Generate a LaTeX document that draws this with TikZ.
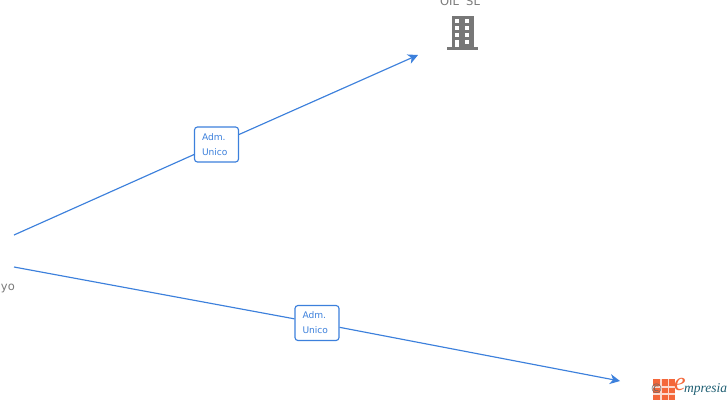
\documentclass[tikz,border=0pt]{standalone}
\usepackage{fontspec}
\setmainfont{DejaVu Sans}
\usetikzlibrary{arrows.meta}
\definecolor{linkblue}{HTML}{3C80DC}
\definecolor{greytext}{HTML}{7A7A7A}
\definecolor{icongrey}{HTML}{777777}
\definecolor{logoorange}{HTML}{F4673A}
\definecolor{logoteal}{HTML}{1F5F73}
\newfontfamily\logofont{Liberation Serif}
\tikzset{
  link/.style={draw=linkblue,line width=1.15pt},
  arrowlink/.style={link,-{Stealth[length=10pt,width=10pt,inset=3pt]}},
  rolebox/.style={draw=linkblue,fill=white,rounded corners=3pt,line width=1.15pt,
    minimum width=44pt,minimum height=35pt,inner xsep=0pt,inner ysep=0pt,text width=29pt,align=left,text=linkblue,
    font=\fontsize{9.1}{15}\selectfont},
  caption/.style={text=greytext,font=\fontsize{11.5}{13}\selectfont,inner sep=0pt}
}
\begin{document}
\begin{tikzpicture}[x=1pt,y=-1pt]
\useasboundingbox (0,0) rectangle (728,400);
\clip (0,0) rectangle (728,400);
\fill[white] (0,0) rectangle (728,400);
\coordinate (s1) at (14,235);
\coordinate (t1) at (418,55);
\coordinate (s2) at (14,267);
\coordinate (t2) at (620,381);
\node[rolebox] (r1) at (216.5,144.5) {Adm.\\Unico};
\node[rolebox] (r2) at (317,323) {Adm.\\Unico};
\draw[link] (s1) -- (r1);
\draw[arrowlink] (r1) -- (t1);
\draw[link] (s2) -- (r2);
\draw[arrowlink] (r2) -- (t2);
\node[caption] (oil) at (460,1.5) {OIL\ \ SL};
\node[caption,anchor=east] (yo) at (15,288.5) {yo};
\node[caption,anchor=west] (frag) at (-2.2,317) {l};
\fill[icongrey] (451.5,16) rectangle (473.5,47.5);
\fill[icongrey] (447,47) rectangle (478,49.7);
\foreach \yy in {19,26,33}{
  \fill[white] (455,\yy) rectangle (459,\yy+4);
  \fill[white] (465,\yy) rectangle (469,\yy+4);
}
\fill[white] (455,39.5) rectangle (459,47);
\fill[white] (465,39.5) rectangle (469,43.5);
\fill[logoorange] (653,379) rectangle (675,400);
\foreach \xx in {660,667.5}{\fill[white!75!logoorange] (\xx,379) rectangle (\xx+1.5,400);}
\foreach \yy in {386,393}{\fill[white!75!logoorange] (653,\yy) rectangle (675,\yy+1.5);}
\node[inner sep=0pt,text=logoorange,font=\logofont\itshape\fontsize{26}{26}\selectfont] (loge) at (680,384.5) {e};
\node[inner sep=0pt,anchor=west,text=logoteal,font=\logofont\itshape\fontsize{13.5}{14}\selectfont] (logt) at (684,389.5) {mpresia};
\node[inner sep=0pt,text=black!60,font=\fontsize{13}{13}\selectfont] (copy) at (656.5,388.5) {©};
\end{tikzpicture}
\end{document}
